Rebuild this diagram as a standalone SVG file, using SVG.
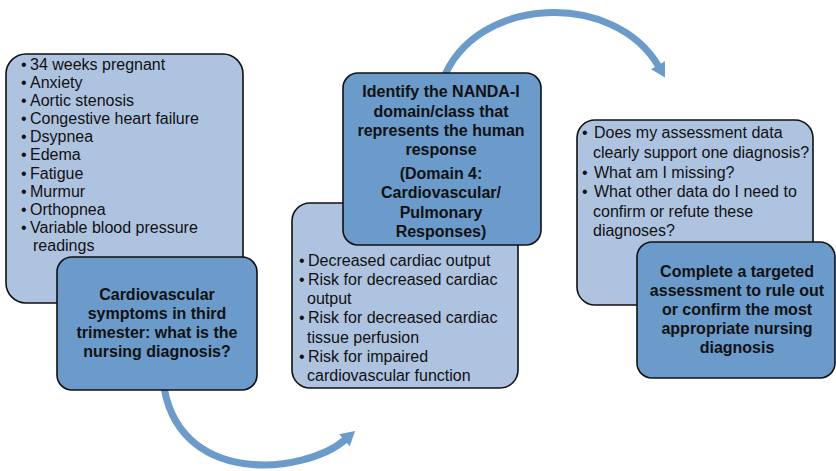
<svg xmlns="http://www.w3.org/2000/svg" width="836" height="471" viewBox="0 0 836 471">
<style>
.light{fill:#AEC3E0;stroke:#111;stroke-width:1.6}
.dark{fill:#6A9BCB;stroke:#111;stroke-width:1.6}
.t{font-family:"Liberation Sans",Arial,sans-serif;font-size:16px;fill:#111}
.b{font-family:"Liberation Sans",Arial,sans-serif;font-size:16px;font-weight:bold;fill:#111;text-anchor:middle}
.arc{fill:none;stroke:#6A9BCB;stroke-width:7}
</style>
<defs>
<marker id="ah" markerUnits="userSpaceOnUse" markerWidth="20" markerHeight="20" viewBox="0 -10 16 20" refX="2" refY="0" orient="auto" overflow="visible">
<path d="M0,-8 L14,0 L0,8 z" fill="#6A9BCB"/>
</marker>
</defs>
<g id="connectors">
<path class="arc" d="M163,380 C175,488 305,475 346,439" marker-end="url(#ah)"/>
<path class="arc" d="M443,80 C475,-5 615,-10 659,67" marker-end="url(#ah)"/>
</g>
<g id="symptoms">
<rect class="light" x="6" y="54" width="237" height="249" rx="20"/>
<text class="t"><tspan x="21" y="70">•</tspan><tspan x="30" y="70">34 weeks pregnant</tspan>
<tspan x="21" y="88">•</tspan><tspan x="30" y="88">Anxiety</tspan>
<tspan x="21" y="106">•</tspan><tspan x="30" y="106">Aortic stenosis</tspan>
<tspan x="21" y="124">•</tspan><tspan x="30" y="124">Congestive heart failure</tspan>
<tspan x="21" y="142">•</tspan><tspan x="30" y="142">Dsypnea</tspan>
<tspan x="21" y="160">•</tspan><tspan x="30" y="160">Edema</tspan>
<tspan x="21" y="179">•</tspan><tspan x="30" y="179">Fatigue</tspan>
<tspan x="21" y="197">•</tspan><tspan x="30" y="197">Murmur</tspan>
<tspan x="21" y="215">•</tspan><tspan x="30" y="215">Orthopnea</tspan>
<tspan x="21" y="233">•</tspan><tspan x="30" y="233">Variable blood pressure</tspan>
<tspan x="33" y="251">readings</tspan></text>
</g>
<g id="question">
<rect class="dark" x="57" y="257" width="200" height="133" rx="15"/>
<text class="b"><tspan x="157" y="300">Cardiovascular</tspan><tspan x="157" y="319">symptoms in third</tspan><tspan x="157" y="338">trimester: what is the</tspan><tspan x="157" y="357">nursing diagnosis?</tspan></text>
</g>
<g id="diagnoses">
<rect class="light" x="292" y="203" width="226" height="185" rx="18"/>
<text class="t"><tspan x="299" y="266">•</tspan><tspan x="308" y="266">Decreased cardiac output</tspan>
<tspan x="299" y="285">•</tspan><tspan x="308" y="285">Risk for decreased cardiac</tspan>
<tspan x="307" y="304">output</tspan>
<tspan x="299" y="323">•</tspan><tspan x="308" y="323">Risk for decreased cardiac</tspan>
<tspan x="307" y="343">tissue perfusion</tspan>
<tspan x="299" y="362">•</tspan><tspan x="308" y="362">Risk for impaired</tspan>
<tspan x="307" y="381">cardiovascular function</tspan></text>
</g>
<g id="nanda">
<rect class="dark" x="343" y="73" width="198" height="172" rx="15"/>
<text class="b"><tspan x="441" y="97">Identify the NANDA-I</tspan><tspan x="441" y="117">domain/class that</tspan><tspan x="441" y="136">represents the human</tspan><tspan x="441" y="155">response</tspan><tspan x="441" y="179">(Domain 4:</tspan><tspan x="441" y="198">Cardiovascular/</tspan><tspan x="441" y="218">Pulmonary</tspan><tspan x="441" y="237">Responses)</tspan></text>
</g>
<g id="questions">
<rect class="light" x="577" y="120" width="236" height="185" rx="18"/>
<text class="t"><tspan x="582" y="138">•</tspan><tspan x="594" y="138">Does my assessment data</tspan>
<tspan x="593" y="158">clearly support one diagnosis?</tspan>
<tspan x="582" y="178">•</tspan><tspan x="594" y="178">What am I missing?</tspan>
<tspan x="582" y="197">•</tspan><tspan x="594" y="197">What other data do I need to</tspan>
<tspan x="593" y="217">confirm or refute these</tspan>
<tspan x="593" y="236">diagnoses?</tspan></text>
</g>
<g id="assessment">
<rect class="dark" x="637" y="242" width="198" height="136" rx="15"/>
<text class="b"><tspan x="737" y="277">Complete a targeted</tspan><tspan x="737" y="296">assessment to rule out</tspan><tspan x="737" y="315">or confirm the most</tspan><tspan x="737" y="334">appropriate nursing</tspan><tspan x="737" y="353">diagnosis</tspan></text>
</g>
</svg>
